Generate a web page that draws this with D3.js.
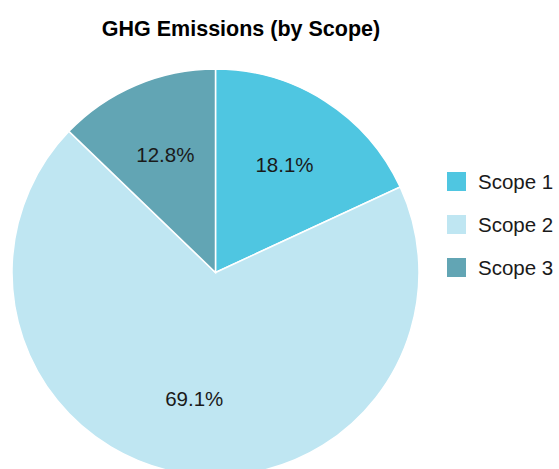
<!doctype html>
<html>
  <head>
    <meta charset="utf-8">
    <title>GHG Emissions (by Scope)</title>
    <script src="https://cdnjs.cloudflare.com/ajax/libs/d3/7.8.5/d3.min.js"></script>
    <style>
      body { margin: 0; background: #fff; }
      text { font-family: "Helvetica Neue", Helvetica, Arial, "Liberation Sans", sans-serif; }
    </style>
  </head>
  <body>
    <div id="chart"></div>
    <script>
      // data
      const scopes = ['Scope 1', 'Scope 2', 'Scope 3'];
      const shares = [18.1, 69.1, 12.8];
      const colors = ['#4fc6e1', '#bfe6f2', '#62a5b4'];

      const width = 559, height = 469;
      const cx = 215.5, cy = 272.5, radius = 203.5;

      const svg = d3.select('#chart')
        .append('svg')
        .attr('width', width)
        .attr('height', height);

      // title
      svg.append('text')
        .attr('x', 241)
        .attr('y', 36)
        .attr('text-anchor', 'middle')
        .style('font-size', '21.5px')
        .style('font-weight', 'bold')
        .attr('fill', '#000')
        .text('GHG Emissions (by Scope)');

      const color = d3.scaleOrdinal().domain(scopes).range(colors);

      const pie = d3.pie().sort(null).value(d => d.value);
      const arcs = pie(scopes.map((s, i) => ({ name: s, value: shares[i] })));

      const arc = d3.arc().innerRadius(0).outerRadius(radius);
      const labelArc = d3.arc().innerRadius(radius * 0.63).outerRadius(radius * 0.63);

      const g = svg.append('g').attr('transform', `translate(${cx},${cy})`);

      g.selectAll('path')
        .data(arcs)
        .join('path')
        .attr('d', arc)
        .attr('fill', d => color(d.data.name))
        .attr('stroke', '#fff')
        .attr('stroke-width', 1.5);

      g.selectAll('text.pct')
        .data(arcs)
        .join('text')
        .attr('class', 'pct')
        .attr('transform', d => `translate(${labelArc.centroid(d)})`)
        .attr('text-anchor', 'middle')
        .attr('dy', '0.35em')
        .style('font-size', '20.5px')
        .attr('fill', '#1a1a1a')
        .text(d => d.data.value.toFixed(1) + '%');

      // legend
      const legend = svg.append('g').attr('transform', 'translate(447,172)');
      const item = legend.selectAll('g')
        .data(scopes)
        .join('g')
        .attr('transform', (d, i) => `translate(0,${i * 43})`);
      item.append('rect')
        .attr('width', 19)
        .attr('height', 19)
        .attr('fill', d => color(d));
      item.append('text')
        .attr('x', 31)
        .attr('y', 9.5)
        .attr('dy', '0.35em')
        .style('font-size', '20.5px')
        .attr('fill', '#1a1a1a')
        .text(d => d);
    </script>
  </body>
</html>
